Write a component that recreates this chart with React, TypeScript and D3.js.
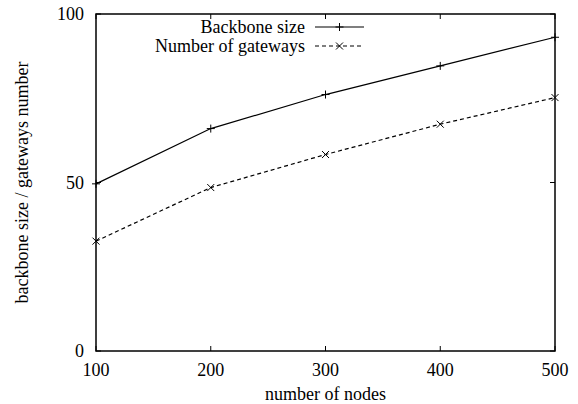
import React from 'react';
import * as d3 from 'd3';

const nodes = [100, 200, 300, 400, 500];
const backbone = [49.6, 66.0, 76.1, 84.6, 93.1];
const gateways = [32.6, 48.5, 58.3, 67.3, 75.2];
const xTicks = [100, 200, 300, 400, 500];
const yTicks = [0, 50, 100];
const seriesNames = ['Backbone size', 'Number of gateways'];

const W = 578;
const H = 404;
const margin = { left: 96, right: 23, top: 14, bottom: 53 };
const font = "'Liberation Serif', 'Times New Roman', serif";

const App = () => {
  const x = d3.scaleLinear().domain([100, 500]).range([margin.left, W - margin.right]);
  const y = d3.scaleLinear().domain([0, 100]).range([H - margin.bottom, margin.top]);

  const line = d3.line<number>()
    .x((_, i) => x(nodes[i]))
    .y(d => y(d));

  const plus = (cx: number, cy: number, k: string) => (
    <path key={k} d={`M${cx - 4},${cy}H${cx + 4}M${cx},${cy - 4}V${cy + 4}`} stroke="#000" strokeWidth={1} />
  );
  const cross = (cx: number, cy: number, k: string) => (
    <path key={k} d={`M${cx - 3.5},${cy - 3.5}L${cx + 3.5},${cy + 3.5}M${cx - 3.5},${cy + 3.5}L${cx + 3.5},${cy - 3.5}`} stroke="#000" strokeWidth={1} />
  );

  const [x0, x1] = x.range();
  const [y0, y1] = y.range();

  // legend placement
  const legTextX = 305;
  const legLineX0 = 315;
  const legLineX1 = 364;
  const legY = [27, 46];

  return (
    <svg width={W} height={H} style={{ position: 'absolute', left: 0, top: 0, background: '#fff', fontFamily: font }}>
      {/* inward ticks */}
      {xTicks.map(t => (
        <g key={'xt' + t}>
          <line x1={x(t)} x2={x(t)} y1={y0} y2={y0 - 5} stroke="#000" />
          <line x1={x(t)} x2={x(t)} y1={y1} y2={y1 + 5} stroke="#000" />
          <text x={x(t)} y={y0 + 25} textAnchor="middle" fontSize={18}>{t}</text>
        </g>
      ))}
      {yTicks.map(t => (
        <g key={'yt' + t}>
          <line x1={x0} x2={x0 + 5} y1={y(t)} y2={y(t)} stroke="#000" />
          <line x1={x1} x2={x1 - 5} y1={y(t)} y2={y(t)} stroke="#000" />
          <text x={x0 - 12} y={y(t)} dy="0.35em" textAnchor="end" fontSize={18}>{t}</text>
        </g>
      ))}

      {/* series */}
      <path d={line(backbone) || ''} fill="none" stroke="#000" strokeWidth={1.2} />
      <path d={line(gateways) || ''} fill="none" stroke="#000" strokeWidth={1.2} strokeDasharray="4,3" />
      {backbone.map((v, i) => plus(x(nodes[i]), y(v), 'bp' + i))}
      {gateways.map((v, i) => cross(x(nodes[i]), y(v), 'gp' + i))}

      {/* legend */}
      <text x={legTextX} y={legY[0]} dy="0.35em" textAnchor="end" fontSize={18}>{seriesNames[0]}</text>
      <line x1={legLineX0} x2={legLineX1} y1={legY[0]} y2={legY[0]} stroke="#000" strokeWidth={1.2} />
      {plus((legLineX0 + legLineX1) / 2, legY[0], 'lp')}
      <text x={legTextX} y={legY[1]} dy="0.35em" textAnchor="end" fontSize={18}>{seriesNames[1]}</text>
      <line x1={legLineX0} x2={legLineX1} y1={legY[1]} y2={legY[1]} stroke="#000" strokeWidth={1.2} strokeDasharray="4,3" />
      {cross((legLineX0 + legLineX1) / 2, legY[1], 'lc')}

      {/* frame */}
      <rect x={x0} y={y1} width={x1 - x0} height={y0 - y1} fill="none" stroke="#000" strokeWidth={1.5} />

      {/* axis titles */}
      <text x={(x0 + x1) / 2} y={y0 + 49} textAnchor="middle" fontSize={18}>number of nodes</text>
      <text transform={`translate(28,${(y0 + y1) / 2}) rotate(-90)`} textAnchor="middle" fontSize={18}>backbone size / gateways number</text>
    </svg>
  );
};

export default App;
